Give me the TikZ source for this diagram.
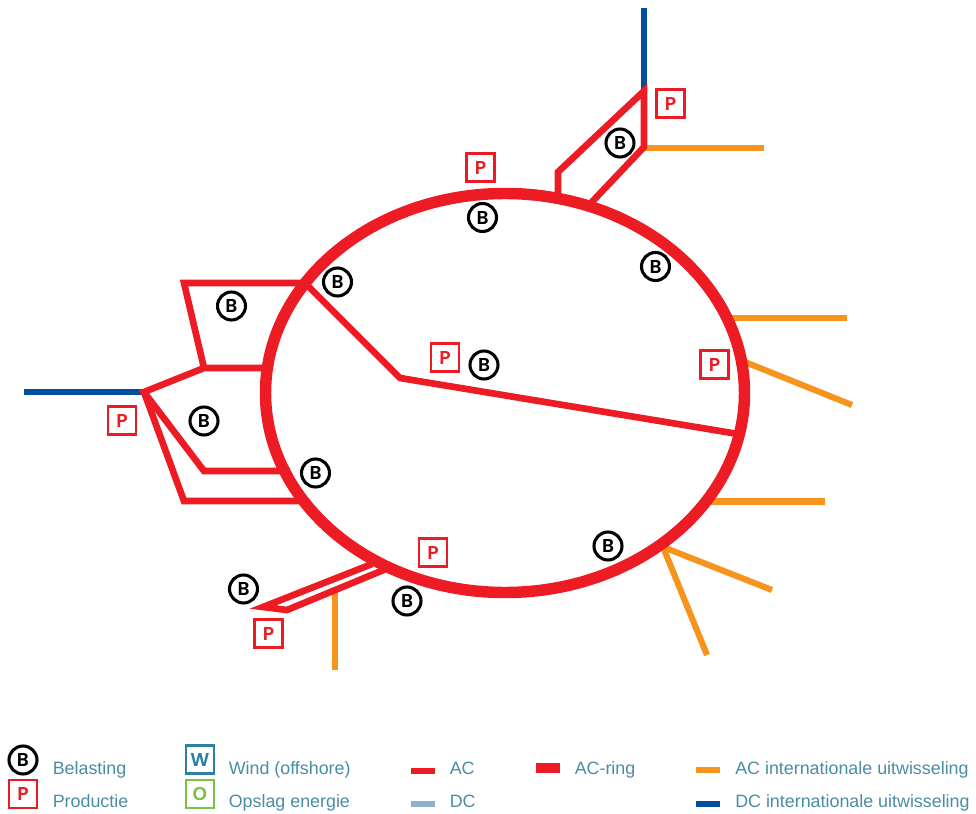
\documentclass[tikz,border=0pt]{standalone}
\usepackage{fontspec}
\setmainfont{Liberation Sans}
\newfontfamily\markfont[BoldFont=Poppins SemiBold]{Poppins}
\definecolor{ringred}{HTML}{ED1C24}
\definecolor{acorange}{HTML}{F7941D}
\definecolor{dcblue}{HTML}{004F9F}
\definecolor{dclight}{HTML}{8DB3CB}
\definecolor{legtext}{HTML}{4A8CA3}
\definecolor{windblue}{HTML}{2F7F9E}
\definecolor{storegreen}{HTML}{7AC143}
\tikzset{
  acline/.style={draw=ringred,line width=5pt,line join=miter,miter limit=8},
  intac/.style={draw=acorange,line width=4.6pt},
  intdc/.style={draw=dcblue,line width=4.6pt},
  bmark/.style={circle,draw=black,line width=2.3pt,fill=white,minimum size=21pt,inner sep=0pt,font=\markfont\bfseries\fontsize{14}{14}\selectfont,text=black},
  boxmark/.style={rectangle,line width=2pt,fill=white,minimum size=21pt,inner sep=0pt,font=\markfont\bfseries\fontsize{14}{14}\selectfont},
  pmark/.style={boxmark,draw=ringred,text=ringred},
  wmark/.style={boxmark,draw=windblue,text=windblue},
  omark/.style={boxmark,draw=storegreen,text=storegreen,font=\bfseries\fontsize{14}{14}\selectfont},
  legtxt/.style={anchor=base west,inner sep=0pt,text=legtext,font=\fontsize{13.4}{14}\selectfont},
  legbar/.style={anchor=center,inner sep=0pt,minimum width=18pt,minimum height=4.3pt},
}
\begin{document}
\begin{tikzpicture}[x=0.75pt,y=-0.75pt]
\useasboundingbox (0,0) rectangle (976,814);
% junctions and free ends
\coordinate (t0) at (644,8);
\coordinate (t1) at (644,91);
\coordinate (t2) at (644,147);
\coordinate (t3) at (590,204);
\coordinate (t4) at (558,172);
\coordinate (t5) at (558,196);
\coordinate (t6) at (764,148);
\coordinate (t7) at (644,148);
\coordinate (l0) at (24,392);
\coordinate (l1) at (144,392);
\coordinate (l2) at (204,368);
\coordinate (l3) at (266,368);
\coordinate (l4) at (184,283);
\coordinate (l5) at (305,283);
\coordinate (l6) at (204,471);
\coordinate (l7) at (290,471);
\coordinate (l8) at (184,501);
\coordinate (l9) at (300,501);
\coordinate (c1) at (400,378);
\coordinate (c2) at (738,434);
\coordinate (b1) at (372,564);
\coordinate (b2) at (263,607);
\coordinate (b3) at (287,610);
\coordinate (b4) at (386,569);
\coordinate (b5) at (335,592);
\coordinate (b6) at (335,670);
\coordinate (r1a) at (732,318);
\coordinate (r1b) at (847,318);
\coordinate (r2a) at (745,362);
\coordinate (r2b) at (852,405);
\coordinate (r3a) at (708,501.5);
\coordinate (r3b) at (825,501.5);
\coordinate (r4) at (663,547);
\coordinate (r4a) at (772,590);
\coordinate (r4b) at (707,655);
% international lines
\draw[intdc] (t0) -- (t1);
\draw[intdc] (l0) -- (l1);
\draw[intac] (t7) -- (t6);
\draw[intac] (b5) -- (b6);
\draw[intac] (r1a) -- (r1b);
\draw[intac] (r2a) -- (r2b);
\draw[intac] (r3a) -- (r3b);
\draw[intac] (r4) -- (r4a);
\draw[intac] (r4) -- (r4b);
% AC lines
\draw[acline] (t5) -- (t4) -- (t1) -- (t2) -- (t3);
\draw[acline] (l3) -- (l2) -- (l1) -- (l6) -- (l7);
\draw[acline] (l2) -- (l4) -- (l5);
\draw[acline] (l1) -- (l8) -- (l9);
\draw[acline] (l5) -- (c1) -- (c2);
\draw[acline] (b1) -- (b2) -- (b3) -- (b4);
% ring
\draw[draw=ringred,line width=8.6pt] (505,393) ellipse [x radius=239.5,y radius=199.5];
% markers
\node[bmark] (bt) at (620,143) {B};
\node[pmark] (pt) at (670.5,103.5) {P};
\node[pmark] (pa) at (480.5,167.5) {P};
\node[bmark] (ba) at (482.5,217.5) {B};
\node[bmark] (bb) at (655.5,266.5) {B};
\node[bmark] (bc) at (337.5,282) {B};
\node[bmark] (bd) at (231.5,306) {B};
\node[pmark] (pc) at (445,357.5) {P};
\node[bmark] (be) at (484,365) {B};
\node[pmark] (pd) at (714.5,364.5) {P};
\node[bmark] (bf) at (204,421) {B};
\node[pmark] (pe) at (122,420.5) {P};
\node[bmark] (bg) at (315.5,473) {B};
\node[pmark] (pf) at (433,552.5) {P};
\node[bmark] (bh) at (407,601) {B};
\node[bmark] (bi) at (243.5,589) {B};
\node[pmark] (pg) at (268.5,633.5) {P};
\node[bmark] (bj) at (608,546) {B};
% legend
\node[bmark] (lb) at (23,760) {B};
\node[pmark] (lp) at (23,794) {P};
\node[wmark] (lw) at (200,759.5) {W};
\node[omark] (lo) at (200,794) {O};
\node[legtxt] (tb) at (52.5,774) {Belasting};
\node[legtxt] (tp) at (52.5,807) {Productie};
\node[legtxt] (tw) at (228.5,774) {Wind (offshore)};
\node[legtxt] (to) at (228.5,807) {Opslag energie};
\node[legbar,fill=ringred] (ba1) at (423,771) {};
\node[legbar,fill=dclight] (ba2) at (423,804) {};
\node[legbar,fill=ringred,minimum height=7pt] (ba3) at (548,768) {};
\node[legbar,fill=acorange] (ba4) at (708,770) {};
\node[legbar,fill=dcblue] (ba5) at (708,804) {};
\node[legtxt] (t1l) at (449.5,774) {AC};
\node[legtxt] (t2l) at (449.5,807) {DC};
\node[legtxt] (t3l) at (574.5,774) {AC-ring};
\node[legtxt] (t4l) at (735,774) {AC internationale uitwisseling};
\node[legtxt] (t5l) at (735,807) {DC internationale uitwisseling};
\end{tikzpicture}
\end{document}
